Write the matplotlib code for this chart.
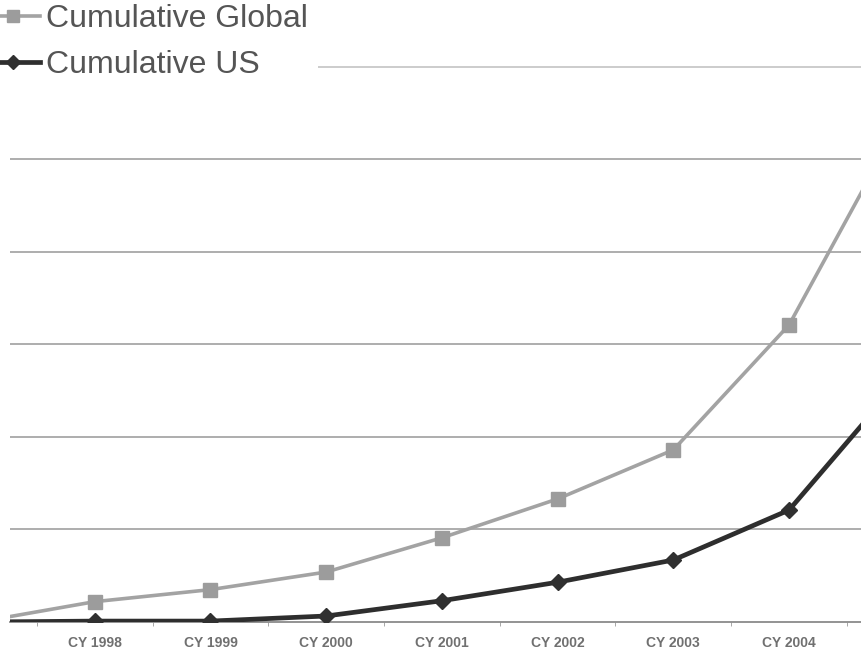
import matplotlib.pyplot as plt
import numpy as np

# calendar years; 1997 and 2005 sit just outside the visible area
years = ["CY 1997", "CY 1998", "CY 1999", "CY 2000", "CY 2001",
         "CY 2002", "CY 2003", "CY 2004", "CY 2005"]
cumulative_global = [0.0, 0.22, 0.35, 0.54, 0.91, 1.33, 1.86, 3.21, 5.5]
cumulative_us = [0.0, 0.01, 0.01, 0.065, 0.23, 0.43, 0.67, 1.21, 2.67]

plt.rcParams["font.family"] = ["Liberation Sans", "DejaVu Sans"]

fig = plt.figure(figsize=(8.62, 6.54), dpi=100)
ax = fig.add_axes([0.0116, 0.0489, 0.9884, 0.9511])

x = np.arange(len(years))
ax.plot(x, cumulative_global, color="#a3a3a3", lw=2.6, marker="s",
        ms=10, mfc="#9c9c9c", mec="#9c9c9c", label="Cumulative Global",
        zorder=3)
ax.plot(x, cumulative_us, color="#2e2e2e", lw=3.4, marker="D",
        ms=8, mfc="#303030", mec="#303030", label="Cumulative US",
        zorder=4)

# horizontal gridlines
for level in range(1, 7):
    ax.axhline(level, color="#a0a0a0" if level < 6 else "#c4c4c4",
               lw=1.2, zorder=1)

# the end years are off-screen, so their labels stay empty
shown = [""] + years[1:-1] + [""]
ax.set_xticks(x)
ax.set_xticklabels(shown, fontsize=10, fontweight="bold", color="#707070")
ax.set_xticks(x[:-1] + 0.5, minor=True)
ax.tick_params(axis="x", which="major", length=0, pad=10)
ax.tick_params(axis="x", which="minor", length=3, color="#999999")
ax.set_yticks([])

ax.set_xlim(0.268, 7.63)
ax.set_ylim(0, 6.72)

for side in ["top", "right", "left"]:
    ax.spines[side].set_visible(False)
ax.spines["bottom"].set_color("#8a8a8a")
ax.spines["bottom"].set_linewidth(1.3)

leg = ax.legend(loc="upper left", bbox_to_anchor=(-0.04, 1.009),
                fontsize=23, frameon=True, facecolor="white",
                edgecolor="none", framealpha=1, handlelength=1.7,
                handletextpad=0.2, labelspacing=0.5, borderaxespad=0,
                borderpad=0.3, markerscale=0.9)
for txt in leg.get_texts():
    txt.set_color("#555555")

fig.savefig("out.png", dpi=100)
